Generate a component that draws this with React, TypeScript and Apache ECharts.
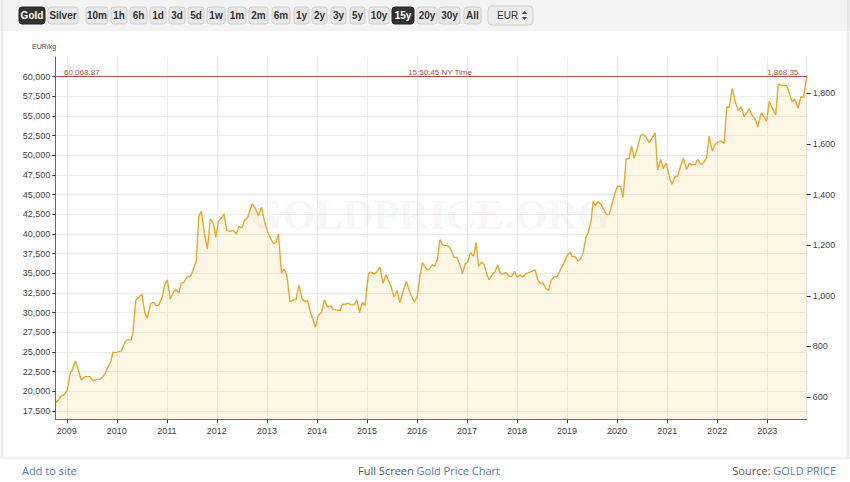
import React, { useEffect, useRef } from "react";
import * as echarts from "echarts";

// ---- data (decimal year, EUR/kg) ----
const years = [
  2008.78, 2008.83, 2008.89, 2008.95, 2009.01, 2009.07, 2009.11, 2009.17, 2009.23, 2009.29,
  2009.36, 2009.46, 2009.53, 2009.59, 2009.66, 2009.72, 2009.77, 2009.81, 2009.88, 2009.92,
  2009.97, 2010.09, 2010.16, 2010.21, 2010.28, 2010.32, 2010.38, 2010.44, 2010.5, 2010.56,
  2010.61, 2010.68, 2010.74, 2010.79, 2010.84, 2010.9, 2010.96, 2011.01, 2011.07, 2011.12,
  2011.18, 2011.24, 2011.29, 2011.34, 2011.41, 2011.47, 2011.52, 2011.59, 2011.64, 2011.69,
  2011.75, 2011.81, 2011.87, 2011.93, 2011.98, 2012.03, 2012.09, 2012.14, 2012.2, 2012.26,
  2012.32, 2012.39, 2012.44, 2012.5, 2012.55, 2012.61, 2012.67,
  2012.71, 2012.78, 2012.83, 2012.89, 2012.95, 2013.01, 2013.07, 2013.13, 2013.18, 2013.23,
  2013.29, 2013.34, 2013.4, 2013.46, 2013.52, 2013.58, 2013.64, 2013.7, 2013.75, 2013.81,
  2013.85, 2013.91, 2013.97, 2014.03, 2014.09, 2014.15, 2014.21, 2014.28, 2014.33, 2014.4,
  2014.46, 2014.51, 2014.57, 2014.62, 2014.69, 2014.74, 2014.8, 2014.85, 2014.91, 2014.96,
  2015.03, 2015.08, 2015.14, 2015.19, 2015.26, 2015.32, 2015.38, 2015.43, 2015.48, 2015.54,
  2015.6, 2015.66, 2015.72, 2015.79, 2015.85, 2015.9, 2015.95, 2016.01, 2016.06, 2016.11,
  2016.17, 2016.23,
  2016.31, 2016.35, 2016.41, 2016.46, 2016.51, 2016.56, 2016.63, 2016.68, 2016.74, 2016.79,
  2016.85, 2016.91, 2016.96, 2017.01, 2017.07, 2017.13, 2017.18, 2017.23, 2017.29, 2017.34,
  2017.39, 2017.44, 2017.49, 2017.56, 2017.61, 2017.67, 2017.72, 2017.78, 2017.84, 2017.89,
  2017.95, 2018.0, 2018.06, 2018.11, 2018.18, 2018.24, 2018.3, 2018.36, 2018.41, 2018.46,
  2018.52, 2018.57, 2018.63, 2018.68, 2018.74, 2018.8, 2018.85, 2018.9, 2018.96, 2019.01,
  2019.06, 2019.1, 2019.17, 2019.22, 2019.28, 2019.32, 2019.38, 2019.42, 2019.48, 2019.52,
  2019.57, 2019.62, 2019.68, 2019.74, 2019.79, 2019.84,
  2019.89, 2019.96, 2020.01, 2020.07, 2020.12, 2020.18, 2020.24, 2020.29, 2020.34, 2020.4,
  2020.47, 2020.52, 2020.58, 2020.64, 2020.7, 2020.76, 2020.81, 2020.87, 2020.92, 2020.98,
  2021.04, 2021.09, 2021.16, 2021.21, 2021.27, 2021.32, 2021.39, 2021.44, 2021.5, 2021.56,
  2021.61, 2021.67, 2021.72, 2021.79, 2021.84, 2021.9, 2021.96, 2022.02, 2022.08, 2022.14,
  2022.19, 2022.24, 2022.3, 2022.36, 2022.42, 2022.48, 2022.54, 2022.59, 2022.64, 2022.7,
  2022.76, 2022.81, 2022.88, 2022.94, 2022.99, 2023.04, 2023.1, 2023.17, 2023.22, 2023.27,
  2023.34, 2023.39, 2023.44, 2023.5, 2023.55, 2023.62, 2023.67, 2023.73, 2023.79,
];

const prices = [
  18600, 18900, 19410, 19580, 20170, 22380, 22720, 23860, 22720, 21450,
  21870, 21870, 21320, 21530, 21530, 21870, 22290, 22930, 23780, 24970,
  24930, 25140, 26200, 26540, 26540, 27260, 31630, 31970, 32390, 30020,
  29300, 31210, 31290, 30910, 31000, 31840, 33540, 34180, 31760, 32480,
  32990, 32480, 33750, 33840, 34600, 34600, 35320, 36600, 42240, 42880,
  40120, 38080, 41900, 41390, 39570, 41600, 42030, 42540, 40460, 40330,
  40460, 40030, 40970, 40760, 41730, 42030, 43180,
  43850, 43090, 42330, 43430, 41610, 40330, 39480, 38760, 38930, 40030,
  35030, 35540, 34690, 31380, 31630, 31630, 33460, 31800, 31420, 31550,
  30570, 29300, 28150, 29720, 30020, 31630, 30700, 30870, 30360, 30360,
  30230, 31080, 31080, 31210, 31000, 31000, 31630, 30020, 31330, 30870,
  34940, 35150, 34900, 35150, 35790, 33750, 34810, 34090, 33460, 31970,
  32820, 31290, 32690, 33970, 32690, 31970, 31330, 32140, 34690, 36380,
  35660, 35450,
  36100, 35890, 36820, 39280, 38640, 38560, 38430, 38010, 37030, 37080,
  36230, 34960, 36230, 36400, 37670, 37160, 38940, 35890, 36440, 36100,
  34960, 34200, 34700, 35260, 36020, 34960, 34920, 35130, 34620, 34620,
  35260, 34500, 34830, 34500, 34960, 35130, 35260, 35470, 34280, 33770,
  33770, 33140, 32840, 34110, 34540, 34620, 35260, 35890, 36650, 37370,
  37670, 37160, 37080, 36530, 36950, 37590, 39620, 40130, 41610, 44150,
  43600, 44150, 43730, 43010, 42460, 42460,
  43590, 45270, 46120, 46030, 44640, 49570, 49570, 51180, 49620, 50840,
  52530, 52650, 52310, 51600, 52230, 52860, 48140, 49490, 48310, 48980,
  47300, 46330, 47300, 47380, 48650, 49620, 48230, 48980, 48770, 48860,
  49490, 48860, 48980, 49700, 52440, 50540, 51390, 51680, 51810, 51510,
  56150, 56110, 58470, 56870, 55690, 56150, 54890, 55390, 55900, 55050,
  54630, 53620, 55390, 54840, 54340, 56870, 56020, 55180, 59100, 58890,
  58890, 58850, 57920, 56780, 57160, 56020, 57420, 57420, 60068.87,
];

const LAST_PRICE = 60068.87;
const LAST_TIME = "15:50:45 NY Time";
const OZ_PER_KG = 32.1507466;
const Y_MIN = 16450;
const Y_MAX = 62500;
const X_MIN = 2008.77;
const X_MAX = 2023.79;
const leftTicks = [17500, 20000, 22500, 25000, 27500, 30000, 32500, 35000, 37500, 40000, 42500, 45000, 47500, 50000, 52500, 55000, 57500, 60000];
const rightTicks = [600, 800, 1000, 1200, 1400, 1600, 1800];

const metalButtons = ["Gold", "Silver"];
const rangeButtons = ["10m", "1h", "6h", "1d", "3d", "5d", "1w", "1m", "2m", "6m", "1y", "2y", "3y", "5y", "10y", "15y", "20y", "30y", "All"];
const activeButtons = ["Gold", "15y"];
const currency = "EUR";
const unitLabel = "EUR/kg";

// toolbar layout (x, width) for each button in order Gold, Silver, ranges...
const buttonLayout: [number, number][] = [
  [19, 26], [48, 30],
  [86, 22], [111, 16], [130, 17], [150, 16], [169, 16], [188, 16], [207, 18], [228, 18],
  [249, 19], [272, 18], [294, 15], [312, 15], [331, 15], [350, 15], [369, 20], [392, 22],
  [417, 20], [439, 21], [464, 17],
];

function toTs(y: number): number {
  const f = Math.floor(y);
  const a = Date.UTC(f, 0, 1);
  const b = Date.UTC(f + 1, 0, 1);
  return a + (y - f) * (b - a);
}

const fmt = (v: number, d = 0) =>
  v.toLocaleString("en-US", { minimumFractionDigits: d, maximumFractionDigits: d });

export default function App() {
  const ref = useRef<HTMLDivElement>(null);

  useEffect(() => {
    document.body.style.margin = "0";
    if (!ref.current) return;
    const chart = echarts.init(ref.current, undefined, { renderer: "svg" });

    const FONT = "Liberation Sans, Arial, sans-serif";
    const linkColor = "#5b80aa";
    const gray = "#555";
    const FOOT = `11px "Open Sans", sans-serif`;

    const allButtons = [...metalButtons, ...rangeButtons];
    const buttonGraphics: any[] = [];
    allButtons.forEach((label, i) => {
      const [x, w] = buttonLayout[i];
      const active = activeButtons.includes(label);
      buttonGraphics.push({
        type: "rect",
        shape: { x, y: 7, width: w, height: 17, r: 3 },
        style: { fill: active ? "#333" : "#e8e8e8", stroke: active ? "#222" : "#cdcdcd", lineWidth: 1 },
        z: 10,
      });
      buttonGraphics.push({
        type: "text",
        x: x + w / 2,
        y: 15.5,
        style: {
          text: label,
          fill: active ? "#fff" : "#333",
          font: `bold 10px ${FONT}`,
          align: "center",
          verticalAlign: "middle",
        },
        z: 11,
      });
    });

    const option: any = {
      animation: false,
      useUTC: true,
      grid: { left: 55.3, right: 43.3, top: 57, bottom: 62.7, containLabel: false },
      xAxis: {
        type: "time",
        min: toTs(X_MIN),
        max: toTs(X_MAX),
        splitNumber: 15,
        minInterval: 365 * 24 * 3600 * 1000,
        maxInterval: 366 * 24 * 3600 * 1000,
        axisLine: { show: true, lineStyle: { color: "#666", width: 1 } },
        axisTick: { show: true, length: 4, lineStyle: { color: "#444" } },
        axisLabel: {
          formatter: (v: number) => String(new Date(v).getUTCFullYear()),
          color: "#444",
          fontSize: 9,
          fontFamily: FONT,
          margin: 7,
        },
        splitLine: { show: true, lineStyle: { color: "#ececec", width: 1 } },
      },
      yAxis: [
        {
          type: "value",
          position: "left",
          min: Y_MIN,
          max: Y_MAX,
          axisLine: { show: true, lineStyle: { color: "#666", width: 1 } },
          axisTick: { show: true, length: 3, customValues: leftTicks, lineStyle: { color: "#333" } },
          axisLabel: {
            customValues: leftTicks,
            formatter: (v: number) => fmt(v),
            color: "#444",
            fontSize: 9,
            fontFamily: FONT,
            margin: 5,
          },
          splitLine: { show: true, lineStyle: { color: "#ececec", width: 1 } },
        },
        {
          type: "value",
          position: "right",
          min: Y_MIN / OZ_PER_KG,
          max: Y_MAX / OZ_PER_KG,
          axisLine: { show: false },
          axisTick: { show: true, length: 4, customValues: rightTicks, lineStyle: { color: "#333" } },
          axisLabel: {
            customValues: rightTicks,
            formatter: (v: number) => fmt(v),
            color: "#444",
            fontSize: 9,
            fontFamily: FONT,
            margin: 6,
          },
          splitLine: { show: false },
        },
      ],
      series: [
        {
          type: "line",
          data: years.map((y, i) => [toTs(y), prices[i]]),
          showSymbol: false,
          symbol: "none",
          lineStyle: { color: "#eca72c", width: 1.4 },
          areaStyle: { color: "rgba(245,195,80,0.2)", origin: "start" },
          z: 3,
          markLine: {
            silent: true,
            symbol: "none",
            label: { show: false },
            lineStyle: { color: "#ad4f4c", width: 1, type: "solid" },
            data: [{ yAxis: LAST_PRICE }],
          },
        },
      ],
      graphic: [
        { type: "rect", shape: { x: 0, y: 0, width: 850, height: 31 }, style: { fill: "#f3f3f3" }, z: 1 },
        { type: "line", shape: { x1: 2, y1: 0, x2: 2, y2: 458 }, style: { stroke: "#d6d6d6", lineWidth: 1 }, z: 1 },
        { type: "line", shape: { x1: 848, y1: 0, x2: 848, y2: 458 }, style: { stroke: "#d6d6d6", lineWidth: 1 }, z: 1 },
        { type: "line", shape: { x1: 0, y1: 458, x2: 850, y2: 458 }, style: { stroke: "#eeeeee", lineWidth: 2.5 }, z: 1 },
        ...buttonGraphics,
        {
          type: "rect",
          shape: { x: 488, y: 6, width: 45, height: 19, r: 4 },
          style: { fill: "#ececec", stroke: "#cfcfcf", lineWidth: 1 },
          z: 10,
        },
        {
          type: "text",
          x: 497,
          y: 15.5,
          style: { text: currency, fill: "#333", font: `10px ${FONT}`, verticalAlign: "middle" },
          z: 11,
        },
        { type: "polygon", shape: { points: [[522, 14], [527, 14], [524.5, 11]] }, style: { fill: "#444" }, z: 11 },
        { type: "polygon", shape: { points: [[522, 17], [527, 17], [524.5, 20]] }, style: { fill: "#444" }, z: 11 },
        {
          type: "text",
          x: 32,
          y: 46,
          style: { text: unitLabel, fill: "#444", font: `7px ${FONT}`, verticalAlign: "middle" },
          z: 5,
        },
        {
          type: "text",
          x: 430,
          y: 215,
          style: {
            text: "GOLDPRICE.ORG",
            fill: "rgba(0,0,0,0.05)",
            font: `bold 42px "Liberation Serif", "Times New Roman", serif`,
            align: "center",
            verticalAlign: "middle",
          },
          z: 1,
        },
        {
          type: "text",
          x: 64,
          y: 72.5,
          style: { text: fmt(LAST_PRICE, 2), fill: "#ad4f4c", font: `8px ${FONT}`, verticalAlign: "middle" },
          z: 6,
        },
        {
          type: "text",
          x: 440,
          y: 72.5,
          style: { text: LAST_TIME, fill: "#ad4f4c", font: `8px ${FONT}`, align: "center", verticalAlign: "middle" },
          z: 6,
        },
        {
          type: "text",
          x: 798.3,
          y: 72.5,
          style: {
            text: fmt(LAST_PRICE / OZ_PER_KG, 2),
            fill: "#ad4f4c",
            font: `8px ${FONT}`,
            align: "right",
            verticalAlign: "middle",
          },
          z: 6,
        },
        {
          type: "text",
          x: 22,
          y: 470,
          style: { text: "Add to site", fill: linkColor, font: FOOT, verticalAlign: "middle" },
          z: 6,
        },
        {
          type: "text",
          x: 429,
          y: 470,
          style: {
            text: "{a|Full Screen }{b|Gold Price Chart}",
            align: "center",
            verticalAlign: "middle",
            rich: {
              a: { fill: gray, font: FOOT },
              b: { fill: linkColor, font: FOOT },
            },
          },
          z: 6,
        },
        {
          type: "text",
          x: 836,
          y: 470,
          style: {
            text: "{a|Source: }{b|GOLD PRICE}",
            align: "right",
            verticalAlign: "middle",
            rich: {
              a: { fill: gray, font: FOOT },
              b: { fill: linkColor, font: FOOT },
            },
          },
          z: 6,
        },
      ],
    };

    chart.setOption(option);
    return () => chart.dispose();
  }, []);

  return <div ref={ref} style={{ width: 850, height: 482, background: "#fff" }} />;
}
